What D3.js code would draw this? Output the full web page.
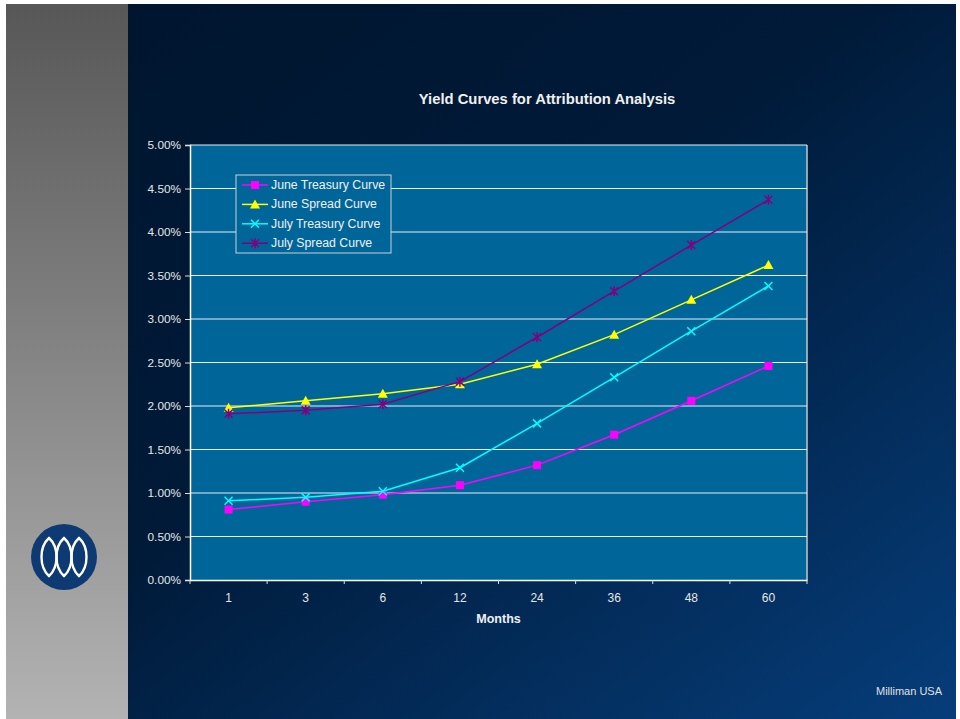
<!DOCTYPE html>
<html><head><meta charset="utf-8">
<script src="https://cdn.jsdelivr.net/npm/d3@7"></script>
<style>html,body{margin:0;padding:0;background:#fff;}svg{display:block;font-family:Arial,"Liberation Sans",sans-serif;}</style>
</head><body>
<script>
const categories = ["1","3","6","12","24","36","48","60"];
const juneTreasury = [0.81,0.90,0.98,1.09,1.32,1.67,2.06,2.46];
const juneSpread   = [1.98,2.06,2.14,2.25,2.48,2.82,3.22,3.62];
const julyTreasury = [0.91,0.95,1.02,1.29,1.80,2.33,2.86,3.38];
const julySpread   = [1.91,1.95,2.02,2.28,2.79,3.32,3.85,4.37];
const yTicks = [0,0.5,1,1.5,2,2.5,3,3.5,4,4.5,5];
const series = [
  {name:"June Treasury Curve", values:juneTreasury, color:"#ff00ff", marker:"square"},
  {name:"June Spread Curve", values:juneSpread, color:"#ffff00", marker:"triangle"},
  {name:"July Treasury Curve", values:julyTreasury, color:"#00ffff", marker:"x"},
  {name:"July Spread Curve", values:julySpread, color:"#800080", marker:"star"}
];

const W=960,H=719;
const svg=d3.select("body").append("svg").attr("width",W).attr("height",H);
const defs=svg.append("defs");
const bg=defs.append("linearGradient").attr("id","bg").attr("x1","0").attr("y1","0").attr("x2","1").attr("y2","1");
bg.append("stop").attr("offset","0").attr("stop-color","#00152e");
bg.append("stop").attr("offset","0.45").attr("stop-color","#001a38");
bg.append("stop").attr("offset","1").attr("stop-color","#063d7a");
const gs=defs.append("linearGradient").attr("id","gs").attr("x1","0").attr("y1","0").attr("x2","0").attr("y2","1");
gs.append("stop").attr("offset","0").attr("stop-color","#575757");
gs.append("stop").attr("offset","1").attr("stop-color","#b3b3b3");

svg.append("rect").attr("x",6).attr("y",4).attr("width",950).attr("height",715).attr("fill","url(#bg)");
svg.append("rect").attr("x",6).attr("y",4).attr("width",122).attr("height",715).attr("fill","url(#gs)");

// logo
const logo=svg.append("g").attr("transform","translate(64,557)");
logo.append("circle").attr("r",33).attr("fill","#0d3a73");
[-15,0,15].forEach(dx=>{
  logo.append("path").attr("d",`M${dx},-19 C${dx+10},-10 ${dx+10},10 ${dx},19 C${dx-10},10 ${dx-10},-10 ${dx},-19 Z`)
    .attr("fill","none").attr("stroke","#ffffff").attr("stroke-width",2.4);
});

const L=190,R=807,T=145,B=580;
const x=d3.scaleBand().domain(categories).range([L,R]);
const y=d3.scaleLinear().domain([0,5]).range([B,T]);

svg.append("rect").attr("x",L).attr("y",T).attr("width",R-L).attr("height",B-T).attr("fill","#00669a");
svg.append("line").attr("x1",R).attr("x2",R).attr("y1",T).attr("y2",B).attr("stroke","#c8c8c8").attr("stroke-width",1.5);
svg.append("g").selectAll("line").data(yTicks.filter(d=>d>0)).join("line")
  .attr("x1",L).attr("x2",R).attr("y1",d=>y(d)).attr("y2",d=>y(d))
  .attr("stroke","#e8eef4").attr("stroke-width",1.2);

const yAxis=svg.append("g").attr("transform",`translate(${L},0)`)
  .call(d3.axisLeft(y).tickValues(yTicks).tickFormat(d=>d.toFixed(2)+"%").tickSize(5).tickPadding(4));
yAxis.select(".domain").attr("stroke","#fff").attr("stroke-width",1.5);
yAxis.selectAll(".tick line").attr("stroke","#ddd");
yAxis.selectAll("text").attr("fill","#e6e6e6").attr("font-size",11.8).attr("font-family","Arial,'Liberation Sans',sans-serif");

const xAxis=svg.append("g").attr("transform",`translate(0,${B})`)
  .call(d3.axisBottom(x).tickSize(0).tickPadding(13));
xAxis.select(".domain").attr("stroke","#fff").attr("stroke-width",1.5);
xAxis.selectAll("text").attr("fill","#e6e6e6").attr("font-size",12).attr("font-family","Arial,'Liberation Sans',sans-serif");
svg.append("g").selectAll("line").data(categories.map(c=>x(c)).concat([R])).join("line")
  .attr("x1",d=>d).attr("x2",d=>d).attr("y1",B).attr("y2",B+4).attr("stroke","#ddd");

svg.append("text").attr("x",(L+R)/2).attr("y",623).attr("text-anchor","middle").attr("fill","#f0f0f0")
  .attr("font-size",12.5).attr("font-weight","bold").text("Months");
svg.append("text").attr("x",547).attr("y",104).attr("text-anchor","middle").attr("fill","#f0f0f0")
  .attr("font-size",14.8).attr("font-weight","bold").text("Yield Curves for Attribution Analysis");
svg.append("text").attr("x",942).attr("y",695).attr("text-anchor","end").attr("fill","#e0e0e0")
  .attr("font-size",11).text("Milliman USA");

function drawMarker(g,type,color,cx,cy){
  if(type==="square") g.append("rect").attr("x",cx-4).attr("y",cy-4).attr("width",8).attr("height",8).attr("fill",color);
  else if(type==="triangle") g.append("path").attr("d",`M${cx},${cy-5}L${cx+5},${cy+4}L${cx-5},${cy+4}Z`).attr("fill",color);
  else if(type==="x") g.append("path").attr("d",`M${cx-4},${cy-4}L${cx+4},${cy+4}M${cx-4},${cy+4}L${cx+4},${cy-4}`).attr("stroke",color).attr("stroke-width",1.5);
  else g.append("path").attr("d",`M${cx-4},${cy-4}L${cx+4},${cy+4}M${cx-4},${cy+4}L${cx+4},${cy-4}M${cx},${cy-5}L${cx},${cy+5}`).attr("stroke",color).attr("stroke-width",1.5);
}
const line=d3.line().x((d,i)=>x(categories[i])+x.bandwidth()/2).y(d=>y(d));
series.forEach(s=>{
  const g=svg.append("g");
  g.append("path").attr("d",line(s.values)).attr("fill","none").attr("stroke",s.color).attr("stroke-width",1.5);
  s.values.forEach((v,i)=>drawMarker(g,s.marker,s.color,x(categories[i])+x.bandwidth()/2,y(v)));
});

// legend
const lg=svg.append("g");
lg.append("rect").attr("x",236).attr("y",175).attr("width",155).attr("height",78).attr("fill","#00669a").attr("stroke","#c8d0d8").attr("stroke-width",1);
series.forEach((s,i)=>{
  const yy=185+i*19.4;
  lg.append("line").attr("x1",242).attr("x2",268).attr("y1",yy).attr("y2",yy).attr("stroke",s.color).attr("stroke-width",1.5);
  drawMarker(lg,s.marker,s.color,255,yy);
  lg.append("text").attr("x",271).attr("y",yy+4).attr("fill","#f0f0f0").attr("font-size",12.3).text(s.name);
});
</script>
</body></html>
